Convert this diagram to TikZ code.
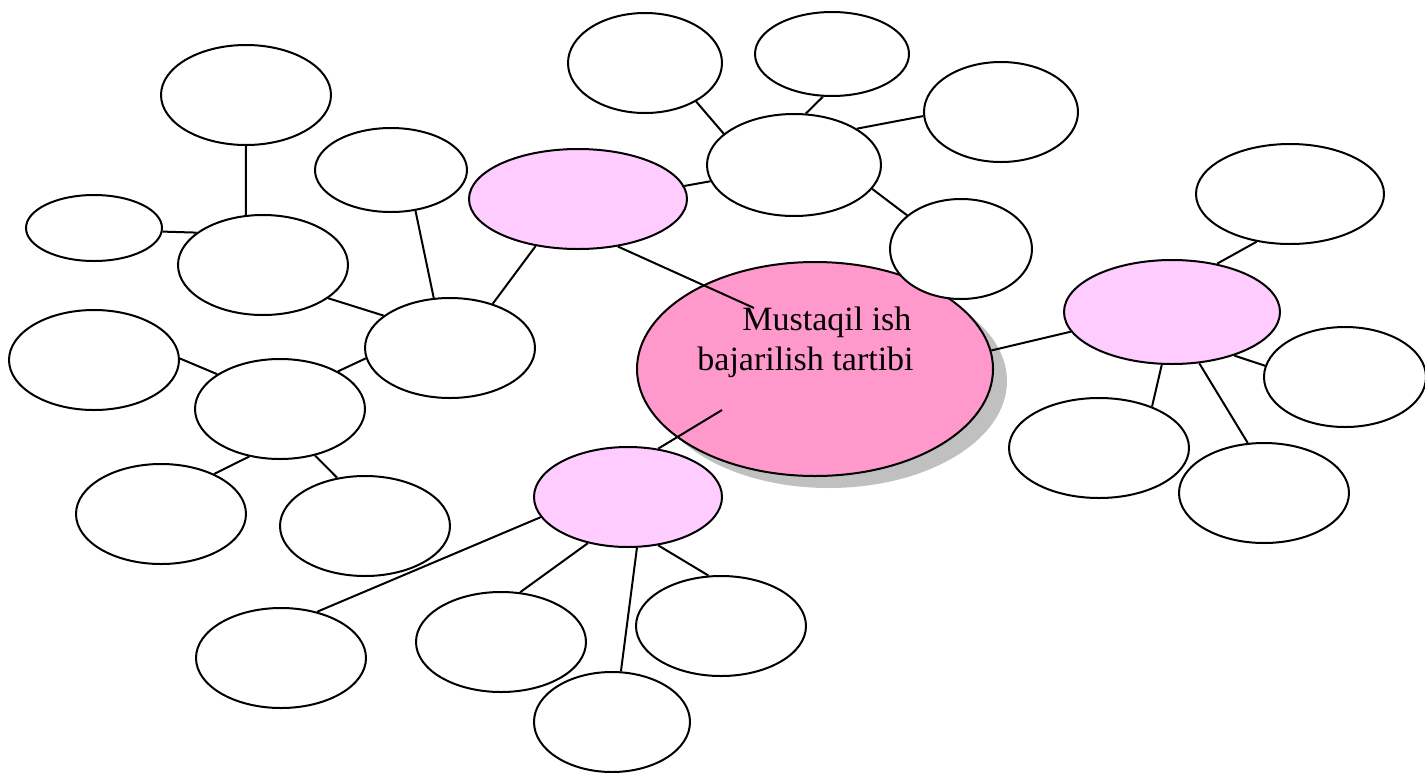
\documentclass[tikz,border=0pt]{standalone}
\usepackage{fontspec}
\setmainfont{Liberation Serif}
\usetikzlibrary{shapes.geometric,shadows}
\definecolor{hubpink}{HTML}{FF99CC}
\definecolor{leafpink}{HTML}{FFCCFF}
\definecolor{shadowgray}{HTML}{C0C0C0}

\begin{document}
\begin{tikzpicture}[x=0.5pt,y=-0.5pt,
  bubble/.style={ellipse, draw, line width=1pt, fill=white, inner sep=0pt},
  pinkbubble/.style={bubble, fill=leafpink},
  link/.style={line width=1pt}]
  \useasboundingbox (0,0) rectangle (1425,772);
  \node[bubble, fill=hubpink, minimum width=178pt, minimum height=107pt,
    drop shadow={shadow xshift=7pt, shadow yshift=-6pt, fill=shadowgray, opacity=1}] (main) at (815,369) {};
  \node[anchor=north west, inner sep=0pt, align=left, font=\fontsize{17}{20}\selectfont] (title) at (697,307)
    {\hspace*{22.5pt}Mustaqil ish\\bajarilish tartibi};
  \coordinate (mtop) at (754,308);
  \coordinate (mbot) at (722,410);
  \node[pinkbubble, minimum width=109pt, minimum height=50pt] (pnw) at (578,199) {};
  \node[pinkbubble, minimum width=108pt, minimum height=52pt] (pe) at (1172,312) {};
  \node[pinkbubble, minimum width=94pt, minimum height=50pt] (ps) at (628,497) {};
  \node[bubble, minimum width=85pt, minimum height=50pt] (a) at (450,348) {};
  \node[bubble, minimum width=85pt, minimum height=50pt] (b) at (263,265) {};
  \node[bubble, minimum width=85pt, minimum height=50pt] (c) at (280,409) {};
  \node[bubble, minimum width=85pt, minimum height=50pt] (b1) at (246,95) {};
  \node[bubble, minimum width=68pt, minimum height=33pt] (b2) at (94,228) {};
  \node[bubble, minimum width=76pt, minimum height=42pt] (a1) at (391,170) {};
  \node[bubble, minimum width=85pt, minimum height=50pt] (c1) at (94,360) {};
  \node[bubble, minimum width=85pt, minimum height=50pt] (c2) at (161,514) {};
  \node[bubble, minimum width=85pt, minimum height=50pt] (c3) at (365,526) {};
  \node[bubble, minimum width=87pt, minimum height=51pt] (n) at (794,165) {};
  \node[bubble, minimum width=77pt, minimum height=50pt] (n1) at (645,63) {};
  \node[bubble, minimum width=77pt, minimum height=42pt] (n2) at (832,54) {};
  \node[bubble, minimum width=77pt, minimum height=50pt] (n3) at (1001,112) {};
  \node[bubble, minimum width=71pt, minimum height=50pt] (n4) at (961,249) {};
  \node[bubble, minimum width=94pt, minimum height=50pt] (e1) at (1290,194) {};
  \node[bubble, minimum width=81pt, minimum height=50pt] (e2) at (1345,377) {};
  \node[bubble, minimum width=90pt, minimum height=50pt] (e3) at (1099,448) {};
  \node[bubble, minimum width=85pt, minimum height=50pt] (e4) at (1264,493) {};
  \node[bubble, minimum width=85pt, minimum height=50pt] (s1) at (281,658) {};
  \node[bubble, minimum width=85pt, minimum height=50pt] (s2) at (501,642) {};
  \node[bubble, minimum width=85pt, minimum height=50pt] (s3) at (721,626) {};
  \node[bubble, minimum width=78pt, minimum height=50pt] (s4) at (612,722) {};
  \draw[link] (b1.south) -- (b.109);
  \draw[link] (b2.-3) -- (b.154);
  \draw[link] (a1.-59) -- (a.108);
  \draw[link] (pnw.228) -- (a.46);
  \draw[link] (b.-27) -- (a.154);
  \draw[link] (c1.1) -- (c.151);
  \draw[link] (a.187) -- (c.33);
  \draw[link] (c.237) -- (c2.37);
  \draw[link] (c.-53) -- (c3.120);
  \draw[link] (n1.-37) -- (n.156);
  \draw[link] (n2.-102) -- (n.77);
  \draw[link] (n3.183) -- (n.30);
  \draw[link] (pnw.7) -- (n.191);
  \draw[link] (n.-17) -- (n4.148);
  \draw[link] (pnw.-50) -- (mtop);
  \draw[link] (mbot) -- (ps.58);
  \draw[link] (main.6) -- (pe.191);
  \draw[link] (e1.235) -- (pe.47);
  \draw[link] (pe.-35) -- (e2.172);
  \draw[link] (pe.-101) -- (e3.38);
  \draw[link] (pe.-62) -- (e4.108);
  \draw[link] (ps.193) -- (s1.52);
  \draw[link] (ps.-131) -- (s2.69);
  \draw[link] (ps.-80) -- (s4.80);
  \draw[link] (ps.-58) -- (s3.104);
\end{tikzpicture}
\end{document}
